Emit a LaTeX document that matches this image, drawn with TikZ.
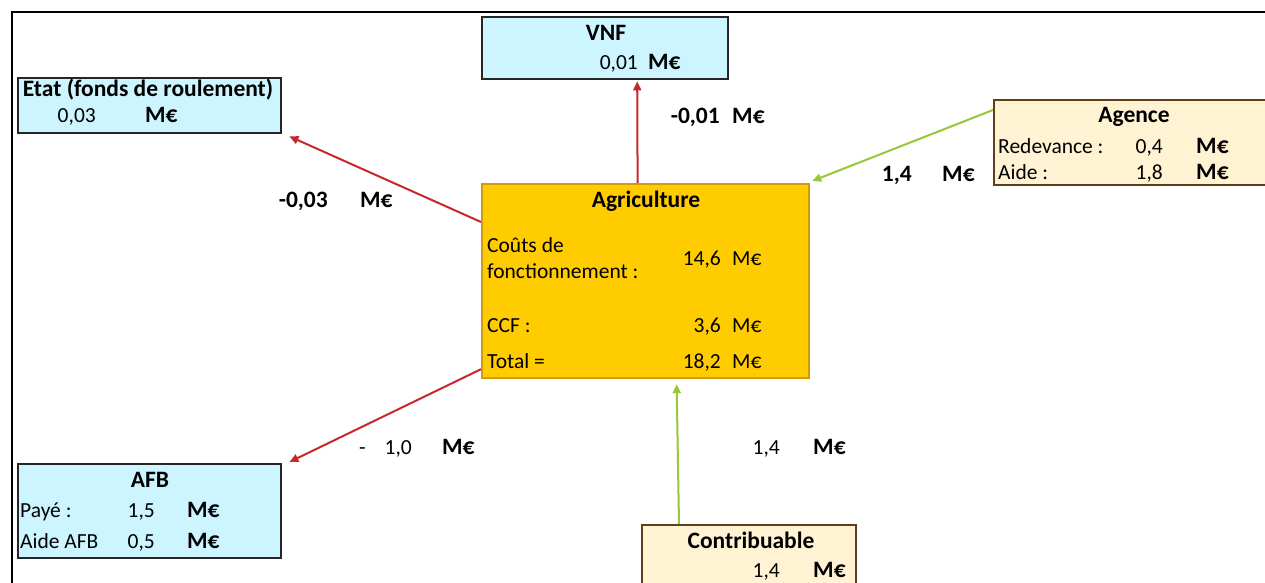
\documentclass[tikz,border=0pt]{standalone}
\usepackage{fontspec}
\setmainfont{Carlito}
\usetikzlibrary{arrows.meta, calc}

\definecolor{cyanfill}{RGB}{204,245,255}
\definecolor{creamfill}{RGB}{255,243,212}
\definecolor{agrifill}{RGB}{255,204,0}
\definecolor{agriedge}{RGB}{210,155,15}
\definecolor{brownedge}{RGB}{96,62,24}
\definecolor{flowred}{RGB}{200,40,45}
\definecolor{flowgreen}{RGB}{150,200,55}

\begin{document}
\begin{tikzpicture}[x=1pt, y=-1pt,
  box/.style={rectangle, draw, anchor=north west, inner sep=0pt},
  bluebox/.style={box, fill=cyanfill, draw=black!85, line width=2.4pt},
  creambox/.style={box, fill=creamfill, draw=brownedge, line width=2.4pt},
  agribox/.style={box, fill=agrifill, draw=agriedge, line width=2.2pt},
  txt/.style={inner sep=0pt, font=\fontsize{21.5}{26}\selectfont},
  bold/.style={txt, font=\fontsize{23.5}{28}\selectfont\bfseries},
  title/.style={bold, anchor=base},
  lft/.style={txt, anchor=base west},
  rgt/.style={txt, anchor=base east},
  unit/.style={bold, anchor=base west},
  flow/.style={-{Triangle[length=9pt,width=8pt]}, line width=2pt},
  red flow/.style={flow, draw=flowred},
  green flow/.style={flow, draw=flowgreen}
]
  \clip (0,0) rectangle (1265,583);
  \fill[white] (0,0) rectangle (1265,583);
  \draw[line width=2pt] (1275,12) -- (12,12) -- (12,595);

  % boxes
  \node[bluebox, minimum width=263, minimum height=55] (etat) at (17,77) {};
  \node[bluebox, minimum width=246, minimum height=62] (vnf) at (481,16) {};
  \node[creambox, minimum width=330, minimum height=85] (agence) at (993,99) {};
  \node[agribox, minimum width=327, minimum height=194] (agri) at (481,183) {};
  \node[bluebox, minimum width=263, minimum height=94] (afb) at (17,463) {};
  \node[creambox, minimum width=214, minimum height=90] (contrib) at (641,524) {};

  % Etat
  \node[title] (etatT) at (148,97) {Etat (fonds de roulement)};
  \node[rgt] (etatV) at (96,122) {0,03};
  \node[unit] (etatU) at (145,122) {M€};

  % VNF
  \node[title] (vnfT) at (606,41) {VNF};
  \node[rgt] (vnfV) at (638,70) {0,01};
  \node[unit] (vnfU) at (648,70) {M€};

  % Agence
  \node[title] (agenceT) at (1134,123) {Agence};
  \node[lft] (agenceR) at (998,153) {Redevance :};
  \node[rgt] (agenceRV) at (1163,153) {0,4};
  \node[unit] (agenceRU) at (1196,153) {M€};
  \node[lft] (agenceA) at (998,179) {Aide :};
  \node[rgt] (agenceAV) at (1163,179) {1,8};
  \node[unit] (agenceAU) at (1196,179) {M€};

  % Agriculture
  \node[title] (agriT) at (646,207) {Agriculture};
  \node[lft] (agriC1) at (487,252) {Coûts de};
  \node[lft] (agriC2) at (487,278) {fonctionnement :};
  \node[rgt] (agriCV) at (721,265) {14,6};
  \node[lft] (agriCU) at (732,265) {M€};
  \node[lft] (agriF) at (487,332) {CCF :};
  \node[rgt] (agriFV) at (721,332) {3,6};
  \node[lft] (agriFU) at (732,332) {M€};
  \node[lft] (agriS) at (487,368) {Total =};
  \node[rgt] (agriSV) at (721,368) {18,2};
  \node[lft] (agriSU) at (732,368) {M€};

  % AFB
  \node[title] (afbT) at (150,487) {AFB};
  \node[lft] (afbP) at (20,517) {Payé :};
  \node[rgt] (afbPV) at (155,517) {1,5};
  \node[unit] (afbPU) at (187,517) {M€};
  \node[lft] (afbA) at (20,548) {Aide AFB};
  \node[rgt] (afbAV) at (155,548) {0,5};
  \node[unit] (afbAU) at (187,548) {M€};

  % Contribuable
  \node[title] (contribT) at (751,548) {Contribuable};
  \node[rgt] (contribV) at (780,577) {1,4};
  \node[unit] (contribU) at (813,577) {M€};

  % flows
  \draw[red flow] ($(agri.north west)+(0,39)$) -- ($(etat.south east)+(7,2)$);
  \draw[red flow] ($(agri.north)+(-8,0)$) -- ($(vnf.south)+(32,1)$);
  \draw[green flow] ($(agence.north west)+(0,11)$) -- ($(agri.north east)+(2,-2)$);
  \draw[red flow] ($(agri.south west)+(0,-10)$) -- ($(afb.north east)+(7,-1)$);
  \draw[green flow] ($(contrib.north west)+(38,0)$) -- ($(agri.south)+(31,5)$);

  % flow labels
  \node[bold, anchor=base east] (etatFV) at (328,207) {-0,03};
  \node[unit] (etatFU) at (360,207) {M€};
  \node[bold, anchor=base east] (vnfFV) at (720,124) {-0,01};
  \node[unit] (vnfFU) at (732,124) {M€};
  \node[bold, anchor=base east] (agenceFV) at (912,181) {1,4};
  \node[unit] (agenceFU) at (942,181) {M€};
  \node[txt, anchor=base west] (afbFS) at (359,454) {-};
  \node[rgt] (afbFV) at (412,454) {1,0};
  \node[unit] (afbFU) at (442,454) {M€};
  \node[rgt] (contribFV) at (780,454) {1,4};
  \node[unit] (contribFU) at (813,454) {M€};
\end{tikzpicture}
\end{document}
